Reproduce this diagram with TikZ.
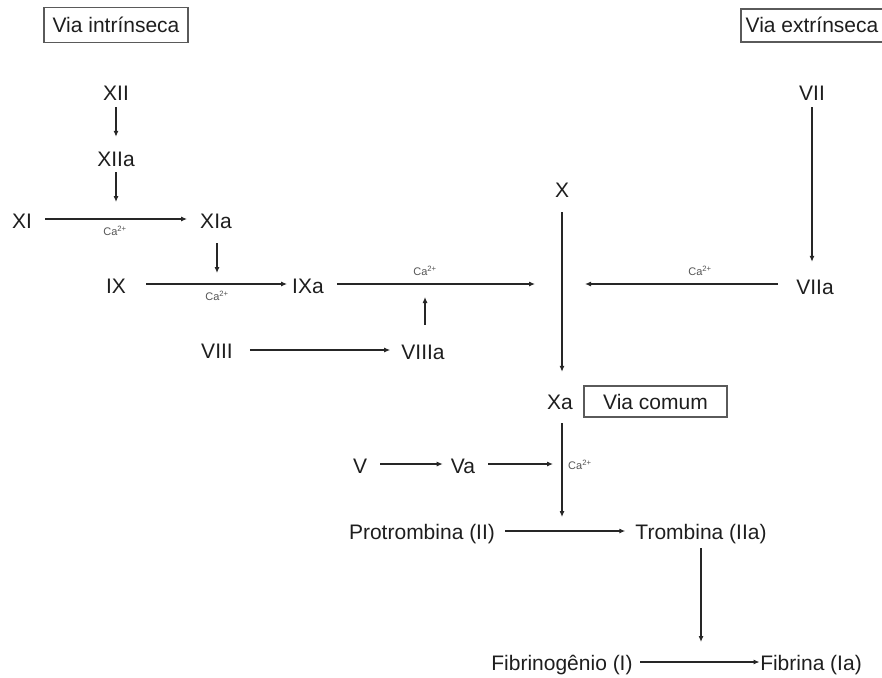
\documentclass[tikz,border=0pt]{standalone}
\usepackage{fontspec}
\setmainfont{Liberation Sans}
\usetikzlibrary{arrows.meta}
\definecolor{txt}{HTML}{1E1E1E}
\definecolor{ln}{HTML}{262626}
\definecolor{boxc}{HTML}{5A5A5A}
\definecolor{cac}{HTML}{555555}
\begin{document}
\begin{tikzpicture}[x=1pt,y=-1pt,
  lbl/.style={inner sep=0pt,text height=15pt,text depth=0pt,text=txt,font=\fontsize{21}{25}\selectfont},
  pathbox/.style={draw=boxc,line width=1.4pt,inner sep=0pt,text height=15pt,text depth=0pt,text=txt,font=\fontsize{21}{25}\selectfont},
  arr/.style={draw=ln,line width=1.1pt,-{Latex[length=6pt,width=5pt]}},
  ca/.style={inner sep=0pt,text=cac,font=\fontsize{11}{12}\selectfont}]
\useasboundingbox (0,0) rectangle (882,677);
% boxes
\node[pathbox,minimum width=144pt,minimum height=35pt] (intr) at (116,25) {Via intrínseca};
\node[pathbox,minimum width=142pt,minimum height=33pt] (extr) at (812,25.5) {Via extrínseca};
\node[pathbox,minimum width=143pt,minimum height=31pt] (comum) at (655.5,401.5) {Via comum};
% factors
\node[lbl] (XII) at (116,93) {XII};
\node[lbl] (XIIa) at (116,159) {XIIa};
\node[lbl] (XI) at (22,221) {XI};
\node[lbl] (XIa) at (216,221) {XIa};
\node[lbl] (IX) at (116,286) {IX};
\node[lbl] (IXa) at (308,286) {IXa};
\node[lbl] (X) at (562,190) {X};
\node[lbl] (VII) at (812,93) {VII};
\node[lbl] (VIIa) at (815,287) {VIIa};
\node[lbl] (VIII) at (217,351) {VIII};
\node[lbl] (VIIIa) at (423,352) {VIIIa};
\node[lbl] (Xa) at (560,402) {Xa};
\node[lbl] (V) at (360,466) {V};
\node[lbl] (Va) at (463,466) {Va};
\node[lbl] (pro) at (422,532) {Protrombina (II)};
\node[lbl] (tro) at (701,532) {Trombina (IIa)};
\node[lbl] (fbg) at (562,663) {Fibrinogênio (I)};
\node[lbl] (fib) at (811,663) {Fibrina (Ia)};
% junction points
\coordinate (c1) at (116,219);
\coordinate (c2) at (217,284);
\coordinate (c3) at (535,284);
\coordinate (c4) at (585,284);
\coordinate (c5) at (562,531);
\coordinate (c6) at (553,464);
\coordinate (c7) at (425,284);
\coordinate (c8) at (701,662);
% vertical arrows
\draw[arr,shorten <=6.5pt,shorten >=14.5pt] (XII.south) -- (XIIa.north);
\draw[arr,shorten <=5.5pt,shorten >=17pt] (XIIa.south) -- (c1);
\draw[arr,shorten <=14.5pt,shorten >=11pt] (XIa.south -| c2) -- (c2);
\draw[arr,shorten <=14.5pt,shorten >=22.5pt] (X.south) -- (X.south |- Xa.north);
\draw[arr,shorten <=13.5pt,shorten >=14pt] (Xa.south -| c5) -- (c5);
\draw[arr,shorten <=6.5pt,shorten >=17.5pt] (VII.south) -- (VII.south |- VIIa.north);
\draw[arr,shorten <=19.5pt,shorten >=13pt] (VIIIa.north -| c7) -- (c7);
\draw[arr,shorten <=8.5pt,shorten >=20pt] (tro.south -| c8) -- (c8);
% horizontal arrows
\draw[arr,shorten <=13pt,shorten >=13pt] (XI.east |- c1) -- (XIa.west |- c1);
\draw[arr,shorten <=20pt,shorten >=5pt] (IX.east |- c2) -- (IXa.west |- c2);
\draw[arr,shorten <=13pt] (IXa.east |- c3) -- (c3);
\draw[arr,shorten <=18pt] (VIIa.west |- c4) -- (c4);
\draw[arr,shorten <=17pt,shorten >=11pt] (VIII.east) ++(0,-1) -- (VIIIa.west |- 0,350);
\draw[arr,shorten <=13pt,shorten >=8pt] (V.east |- c6) -- (Va.west |- c6);
\draw[arr,shorten <=13pt] (Va.east |- c6) -- (c6);
\draw[arr,shorten <=10pt,shorten >=10pt] (pro.east |- c5) -- (tro.west |- c5);
\draw[arr,shorten <=7.5pt,shorten >=0.5pt] (fbg.east |- c8) -- (fib.west |- c8);
% calcium labels
\node[ca] (ca1) at (115,231) {Ca\textsuperscript{2+}};
\node[ca] (ca2) at (217,296) {Ca\textsuperscript{2+}};
\node[ca] (ca3) at (425,271) {Ca\textsuperscript{2+}};
\node[ca] (ca4) at (700,271) {Ca\textsuperscript{2+}};
\node[ca,anchor=west] (ca5) at (568,465) {Ca\textsuperscript{2+}};
\end{tikzpicture}
\end{document}
